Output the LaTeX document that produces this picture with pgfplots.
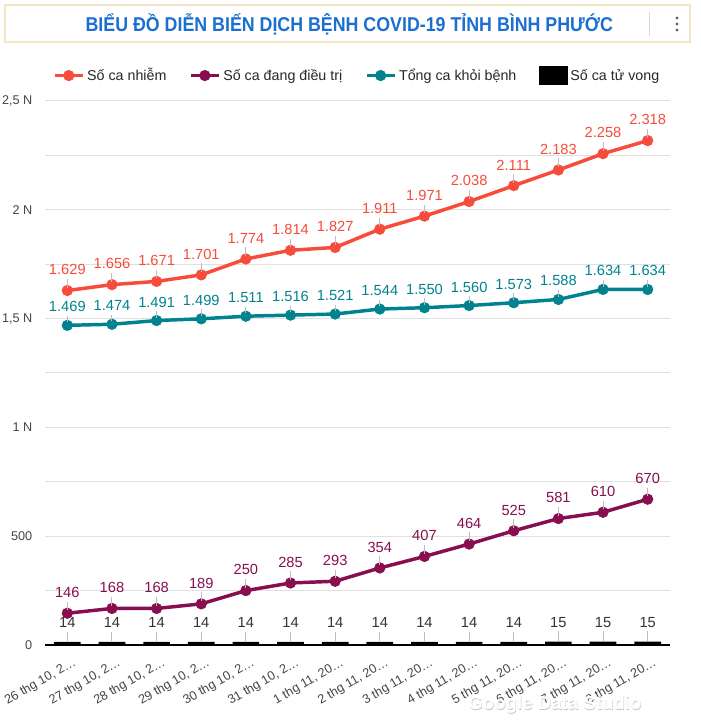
\documentclass[border=0pt]{standalone}
\usepackage{pgfplots}
\pgfplotsset{compat=1.18}
\usepackage{fontspec}
\setmainfont{Liberation Sans}
\definecolor{cred}{HTML}{F74B3B}
\definecolor{cpur}{HTML}{880E4F}
\definecolor{cteal}{HTML}{00838F}
\definecolor{ctitle}{HTML}{1A6FD1}
\definecolor{ctick}{HTML}{444444}
\definecolor{cgrid}{HTML}{E0E0E0}
\definecolor{cleader}{HTML}{BDBDBD}
\definecolor{cborder}{HTML}{F1E7C6}
\newcommand{\lbl}[2]{\shortstack{#1\\\textcolor{cleader}{\rule{0.7pt}{#2}}}}
\begin{document}
\begin{tikzpicture}
\useasboundingbox (0,0) rectangle (525pt,546pt);
% title box
\fill[gray!22] (4.5pt,513.5pt) rectangle (518.5pt,541.5pt);
\draw[cborder, line width=0.8pt, fill=white] (3.75pt,514.5pt) rectangle (517.5pt,542.25pt);
\node[text=ctitle, font=\fontsize{15}{17}\selectfont\bfseries] at (262pt,528pt) {\scalebox{0.89}[1]{BIỂU ĐỒ DIỄN BIẾN DỊCH BỆNH COVID-19 TỈNH BÌNH PHƯỚC}};
\draw[gray!30, line width=0.6pt] (486.75pt,519pt) -- (486.75pt,537pt);
\foreach \yy in {523.5,528,532.5} \fill[gray!80!black] (507.75pt,\yy pt) circle (1.2pt);
\begin{axis}[
  at={(33.75pt,62.25pt)}, anchor=south west,
  scale only axis, width=468.75pt, height=408pt,
  xmin=-0.5, xmax=13.5, ymin=0, ymax=2500,
  xtick={0,...,13},
  xticklabels={26 thg 10{,} 2…,27 thg 10{,} 2…,28 thg 10{,} 2…,29 thg 10{,} 2…,30 thg 10{,} 2…,31 thg 10{,} 2…,1 thg 11{,} 20…,2 thg 11{,} 20…,3 thg 11{,} 20…,4 thg 11{,} 20…,5 thg 11{,} 20…,6 thg 11{,} 20…,7 thg 11{,} 20…,8 thg 11{,} 20…},
  ytick={0,500,1000,1500,2000,2500},
  yticklabels={0,500,1 N,{1,5 N},2 N,{2,5 N}},
  minor ytick={250,750,1250,1750,2250},
  ymajorgrids, yminorgrids,
  grid style={cgrid, line width=0.75pt},
  minor grid style={cgrid, line width=0.75pt},
  axis x line*=bottom, axis y line*=left,
  x axis line style={black, line width=1.1pt},
  y axis line style={draw=none},
  major tick length=0pt, minor tick length=0pt,
  tick label style={font=\fontsize{9.5}{10}\selectfont, text=ctick},
  yticklabel style={xshift=-6pt},
  xticklabel style={rotate=30, anchor=north east, yshift=-6pt, xshift=2pt},
  clip=false,
  legend columns=4,
  legend style={at={(0.5,1)}, anchor=south, yshift=9.5pt, draw=none, fill=none,
    font=\fontsize{10.7}{12}\selectfont, text=black!85,
    /tikz/every even column/.append style={column sep=15pt}},
  legend cell align=left,
  legend image code/.code={\draw[mark repeat=2,mark phase=2,#1] plot coordinates {(0pt,0pt)(10.5pt,0pt)(21pt,0pt)};},
  /pgf/number format/1000 sep={.},
  /pgf/number format/assume math mode=true,
]
\addplot[cred, line width=2.6pt, mark=*, mark size=4pt, mark options={solid, line width=0.4pt},
  nodes near coords={\lbl{\pgfmathprintnumber{\pgfplotspointmeta}}{6.5pt}},
  every node near coord/.append style={text=cred, font=\fontsize{11}{12}\selectfont, anchor=south, inner sep=0pt, yshift=2pt}]
 coordinates {(0,1629)(1,1656)(2,1671)(3,1701)(4,1774)(5,1814)(6,1827)(7,1911)(8,1971)(9,2038)(10,2111)(11,2183)(12,2258)(13,2318)};
\addlegendentry{Số ca nhiễm}
\addplot[cpur, line width=2.6pt, mark=*, mark size=4pt, mark options={solid, line width=0.4pt},
  nodes near coords={\lbl{\pgfmathprintnumber{\pgfplotspointmeta}}{6.5pt}},
  every node near coord/.append style={text=cpur, font=\fontsize{11}{12}\selectfont, anchor=south, inner sep=0pt, yshift=2pt}]
 coordinates {(0,146)(1,168)(2,168)(3,189)(4,250)(5,285)(6,293)(7,354)(8,407)(9,464)(10,525)(11,581)(12,610)(13,670)};
\addlegendentry{Số ca đang điều trị}
\addplot[cteal, line width=2.6pt, mark=*, mark size=4pt, mark options={solid, line width=0.4pt},
  nodes near coords={\lbl{\pgfmathprintnumber{\pgfplotspointmeta}}{4.8pt}},
  every node near coord/.append style={text=cteal, font=\fontsize{11}{12}\selectfont, anchor=south, inner sep=0pt, yshift=2pt}]
 coordinates {(0,1469)(1,1474)(2,1491)(3,1499)(4,1511)(5,1516)(6,1521)(7,1544)(8,1550)(9,1560)(10,1573)(11,1588)(12,1634)(13,1634)};
\addlegendentry{Tổng ca khỏi bệnh}
\addplot[ybar, bar width=20pt, fill=black, draw=none,
  legend image code/.code={\fill[black] (0pt,-7pt) rectangle (21.5pt,7pt);},
  nodes near coords={\lbl{\pgfmathprintnumber{\pgfplotspointmeta}}{7pt}},
  every node near coord/.append style={text=black!80, font=\fontsize{11}{12}\selectfont, anchor=south, inner sep=0pt, yshift=0.5pt}]
 coordinates {(0,14)(1,14)(2,14)(3,14)(4,14)(5,14)(6,14)(7,14)(8,14)(9,14)(10,14)(11,15)(12,15)(13,15)};
\addlegendentry{Số ca tử vong}
\end{axis}
\node[text=gray!45, font=\fontsize{14}{16}\selectfont\bfseries] at (416.6pt,16.6pt) {Google Data Studio};
\node[text=white, font=\fontsize{14}{16}\selectfont\bfseries] at (416.25pt,17.25pt) {Google Data Studio};
\end{tikzpicture}
\end{document}
